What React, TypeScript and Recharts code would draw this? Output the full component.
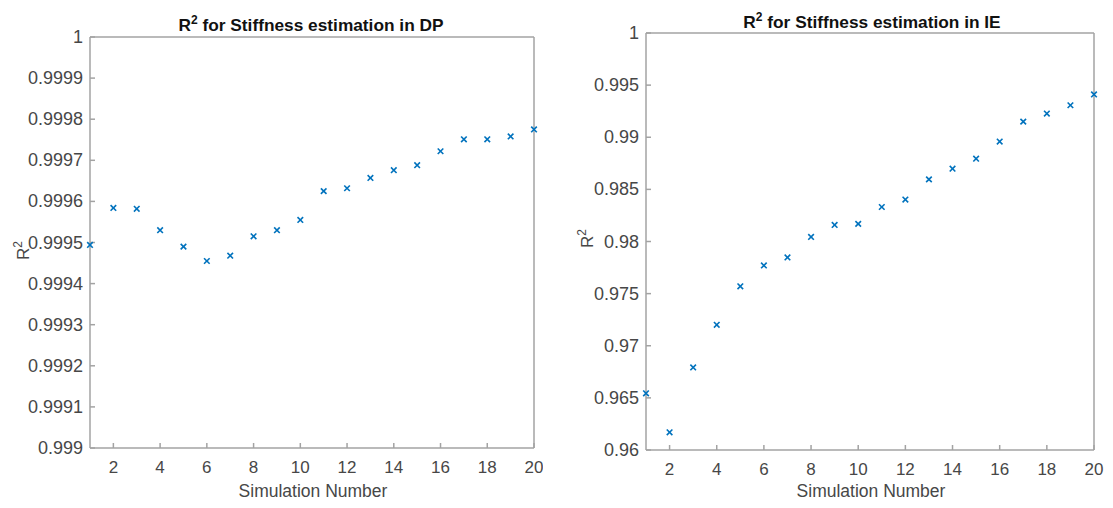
import React from 'react';
import { ScatterChart, Scatter, XAxis, YAxis } from 'recharts';

// Simulation index shared by both panels
const simNo = [1, 2, 3, 4, 5, 6, 7, 8, 9, 10, 11, 12, 13, 14, 15, 16, 17, 18, 19, 20];

// R^2 of the stiffness estimate, DP method
const dpR2 = [
  0.999494, 0.999584, 0.999582, 0.99953, 0.99949, 0.999455, 0.999468, 0.999515, 0.99953, 0.999555,
  0.999625, 0.999632, 0.999657, 0.999676, 0.999688, 0.999722, 0.999751, 0.999751, 0.999758, 0.999775,
];

// R^2 of the stiffness estimate, IE method
const ieR2 = [
  0.96544, 0.9617, 0.96792, 0.97201, 0.9757, 0.9777, 0.97847, 0.98044, 0.98159, 0.98169,
  0.98331, 0.98402, 0.98596, 0.98698, 0.98794, 0.98959, 0.9915, 0.99227, 0.99307, 0.99411,
];

const xTicks = [2, 4, 6, 8, 10, 12, 14, 16, 18, 20];
const dpTicks = [0.999, 0.9991, 0.9992, 0.9993, 0.9994, 0.9995, 0.9996, 0.9997, 0.9998, 0.9999, 1];
const ieTicks = [0.96, 0.965, 0.97, 0.975, 0.98, 0.985, 0.99, 0.995, 1];

const FONT = '"Liberation Sans", Arial, sans-serif';
const AXIS = '#a3a3a3';
const TICK_TEXT = '#474747';
const MARK = '#0072BD';

// small "x" marker like MATLAB's 'x' linespec
const Cross = (props: any) => {
  const { cx, cy } = props;
  if (cx == null || cy == null) return null;
  const h = 2.8;
  return (
    <g stroke={MARK} strokeWidth={1.6}>
      <line x1={cx - h} y1={cy - h} x2={cx + h} y2={cy + h} />
      <line x1={cx - h} y1={cy + h} x2={cx + h} y2={cy - h} />
    </g>
  );
};

const NoMark = () => null;

// tick labels, drawn by hand so the font size sticks
const XTick = (props: any) => {
  const { x, y, payload } = props;
  return (
    <text x={x} y={y + 19} textAnchor="middle" fill={TICK_TEXT} style={{ fontSize: 17, fontFamily: FONT }}>
      {payload.value}
    </text>
  );
};

const YTick = (props: any) => {
  const { x, y, payload } = props;
  return (
    <text x={x} y={y + 6} textAnchor="end" fill={TICK_TEXT} style={{ fontSize: 18, fontFamily: FONT }}>
      {String(payload.value)}
    </text>
  );
};

interface PanelProps {
  values: number[];
  yTicks: number[];
  width: number;
  top: number;
  bottom: number;
  right: number;
}

function Panel({ values, yTicks, width, top, bottom, right }: PanelProps) {
  const data = simNo.map((n, i) => ({ x: n, y: values[i] }));
  const yDomain = [yTicks[0], yTicks[yTicks.length - 1]];
  return (
    <ScatterChart
      width={width}
      height={508}
      margin={{ top: top - 1, right: right - 1, bottom: 508 - bottom - 50, left: 0 }}
    >
      <XAxis
        xAxisId="b"
        type="number"
        dataKey="x"
        domain={[1, 20]}
        ticks={xTicks}
        height={50}
        stroke={AXIS}
        strokeWidth={1.5}
        tickSize={-5}
        tickMargin={11}
        tick={<XTick />}
      />
      <XAxis
        xAxisId="t"
        orientation="top"
        type="number"
        dataKey="x"
        domain={[1, 20]}
        ticks={xTicks}
        height={1}
        stroke={AXIS}
        strokeWidth={1.5}
        tickSize={-5}
        tick={false}
      />
      <YAxis
        yAxisId="l"
        type="number"
        dataKey="y"
        domain={yDomain}
        ticks={yTicks}
        width={90}
        stroke={AXIS}
        strokeWidth={1.5}
        tickSize={-5}
        tickMargin={12}
        tick={<YTick />}
      />
      <YAxis
        yAxisId="r"
        orientation="right"
        type="number"
        dataKey="y"
        domain={yDomain}
        ticks={yTicks}
        width={1}
        stroke={AXIS}
        strokeWidth={1.5}
        tickSize={-5}
        tick={false}
      />
      {/* binds the mirrored top/right axes so the box is closed */}
      <Scatter data={data} xAxisId="t" yAxisId="r" shape={<NoMark />} isAnimationActive={false} />
      <Scatter data={data} xAxisId="b" yAxisId="l" shape={<Cross />} isAnimationActive={false} />
    </ScatterChart>
  );
}

const Title = ({ text, cx, top }: { text: string; cx: number; top: number }) => (
  <div
    style={{
      position: 'absolute',
      left: cx - 200,
      width: 400,
      top,
      textAlign: 'center',
      fontFamily: FONT,
      fontWeight: 'bold',
      fontSize: 17.3,
      lineHeight: '20px',
      color: '#111',
      whiteSpace: 'nowrap',
    }}
  >
    R<span style={{ fontSize: 12, position: 'relative', top: -7 }}>2</span> {text}
  </div>
);

const XTitle = ({ cx }: { cx: number }) => (
  <div
    style={{
      position: 'absolute',
      left: cx - 150,
      width: 300,
      top: 481,
      textAlign: 'center',
      fontFamily: FONT,
      fontSize: 17.5,
      lineHeight: '20px',
      color: TICK_TEXT,
    }}
  >
    Simulation Number
  </div>
);

const YTitle = ({ cx, cy }: { cx: number; cy: number }) => (
  <div
    style={{
      position: 'absolute',
      left: cx - 30,
      top: cy - 10,
      width: 60,
      textAlign: 'center',
      fontFamily: FONT,
      fontSize: 17,
      lineHeight: '20px',
      color: TICK_TEXT,
      transform: 'rotate(-90deg)',
    }}
  >
    R<span style={{ fontSize: 12, position: 'relative', top: -7 }}>2</span>
  </div>
);

export default function App() {
  return (
    <div
      style={{
        position: 'absolute',
        left: 0,
        top: 0,
        width: 1113,
        height: 508,
        background: '#fff',
        overflow: 'hidden',
      }}
    >
      <div style={{ position: 'absolute', left: 0, top: 0, width: 543, height: 508, overflow: 'hidden' }}>
        <Panel values={dpR2} yTicks={dpTicks} width={543} top={37} bottom={448} right={9} />
      </div>
      <div style={{ position: 'absolute', left: 556, top: 0, width: 548, height: 508, overflow: 'hidden' }}>
        <Panel values={ieR2} yTicks={ieTicks} width={548} top={33} bottom={450} right={10} />
      </div>
      <Title text="for Stiffness estimation in DP" cx={311} top={14.5} />
      <Title text="for Stiffness estimation in IE" cx={872} top={12} />
      <YTitle cx={24} cy={250} />
      <YTitle cx={588} cy={238} />
      <XTitle cx={313} />
      <XTitle cx={871} />
    </div>
  );
}
